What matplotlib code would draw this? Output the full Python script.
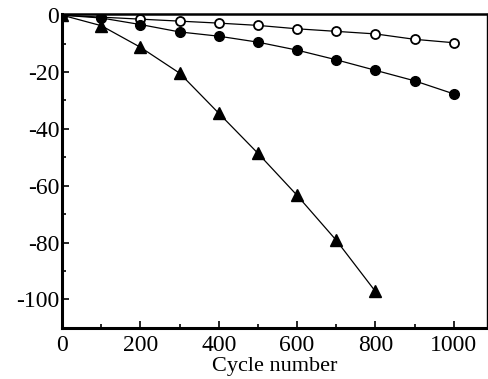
import matplotlib
matplotlib.use("Agg")
import matplotlib.pyplot as plt
from matplotlib.ticker import MultipleLocator

plt.rcParams['font.family'] = ['Liberation Serif', 'DejaVu Serif']
plt.rcParams['axes.unicode_minus'] = False

# data
cycles = [0, 100, 200, 300, 400, 500, 600, 700, 800, 900, 1000]
open_circ = [0, -0.7, -1.4, -2.1, -2.8, -3.6, -4.8, -5.7, -6.6, -8.5, -9.7]
filled_circ = [0, -1.0, -3.3, -5.9, -7.4, -9.5, -12.3, -15.7, -19.4, -23.1, -27.7]
tri_cycles = [0, 100, 200, 300, 400, 500, 600, 700, 800]
triangles = [0, -3.7, -11.3, -20.4, -34.5, -48.6, -63.4, -79.2, -97.2]

fig = plt.figure(figsize=(4.89, 3.79), dpi=100)
ax = fig.add_axes([0.127, 0.135, 0.869, 0.828])

ax.plot(cycles, open_circ, color='black', lw=0.9, marker='o', ms=6.5,
        mfc='white', mec='black', mew=1.3)
ax.plot(cycles, filled_circ, color='black', lw=0.9, marker='o', ms=7,
        mfc='black', mec='black')
ax.plot(tri_cycles, triangles, color='black', lw=0.9, marker='^', ms=9,
        mfc='black', mec='black')

ax.set_xlim(0, 1085)
ax.set_ylim(-110, 0.4)
ax.xaxis.set_major_locator(MultipleLocator(200))
ax.xaxis.set_minor_locator(MultipleLocator(100))
ax.yaxis.set_major_locator(MultipleLocator(20))
ax.yaxis.set_minor_locator(MultipleLocator(10))
ax.tick_params(which='both', direction='in', labelsize=17, width=1.2)
ax.tick_params(which='major', length=5)
ax.tick_params(which='minor', length=3)
ax.tick_params(axis='x', pad=5)
ax.tick_params(axis='y', pad=2)
for s in ax.spines.values():
    s.set_linewidth(1.0)
ax.spines['left'].set_linewidth(2.2)
ax.spines['bottom'].set_linewidth(2.2)
ax.spines['top'].set_linewidth(1.8)

ax.set_xlabel('Cycle number', fontsize=16, labelpad=1)

fig.savefig('out.png', dpi=100)
